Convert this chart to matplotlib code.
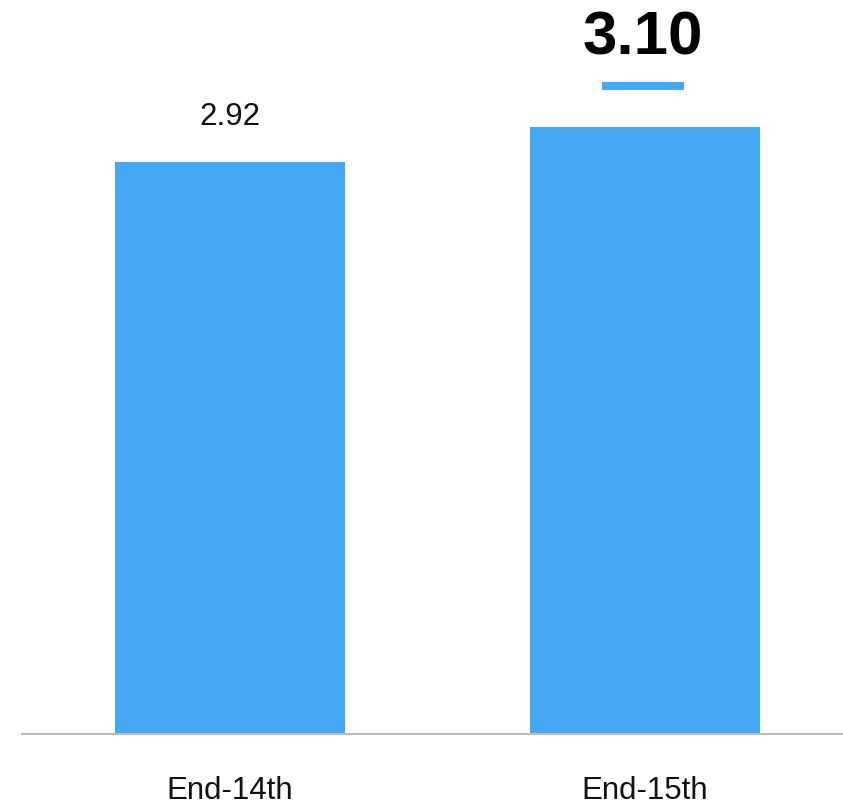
import matplotlib
matplotlib.use("Agg")
import matplotlib.pyplot as plt

categories = ["End-14th", "End-15th"]
values = [2.92, 3.10]
labels = ["2.92", "3.10"]

bar_color = "#45A8F5"
plt.rcParams['font.family'] = ['Liberation Sans', 'DejaVu Sans']

fig = plt.figure(figsize=(8.43, 8.06), dpi=100)
W, H = 843, 806
scale = 195.9  # px per unit
base_px = 734
x_left_px, x_right_px = 22, 843
ax = fig.add_axes([x_left_px / W, (H - base_px) / H, (x_right_px - x_left_px) / W, base_px / H])

spacing = 415.0
bw = 230 / spacing
xs = list(range(len(categories)))
ax.bar(xs, values, width=bw, color=bar_color, zorder=2)
ax.set_xlim(-(230 - x_left_px) / spacing, 1 + (x_right_px - 645) / spacing)
ax.set_ylim(0, base_px / scale)

for s in ["top", "right", "left"]:
    ax.spines[s].set_visible(False)
ax.spines["bottom"].set_color("#BBBBBB")
ax.spines["bottom"].set_linewidth(1.5)
ax.set_yticks([])
ax.set_xticks(xs)
ax.set_xticklabels(categories, fontsize=22.5, color="#111111")
ax.tick_params(axis="x", length=0, pad=30.5)

# label for first bar
ax.annotate(labels[0], xy=(xs[0], values[0]), xytext=(0, 45 * 0.72), textcoords="offset points",
            ha="center", va="center", fontsize=22.5, color="#111111")
# highlighted label for second bar
ax.annotate(labels[1], xy=(xs[1], values[1]), xytext=(-2 * 0.72, 88 * 0.72), textcoords="offset points",
            ha="center", va="center", fontsize=44.5, fontweight="bold", color="#000000")
# dash under highlighted label
y_dash = values[1] + 41 / scale
ax.plot([xs[1] - 43 / spacing, xs[1] + 39 / spacing], [y_dash, y_dash], color=bar_color,
        linewidth=5.8, solid_capstyle="butt", clip_on=False)

fig.savefig("out.png", dpi=100)
